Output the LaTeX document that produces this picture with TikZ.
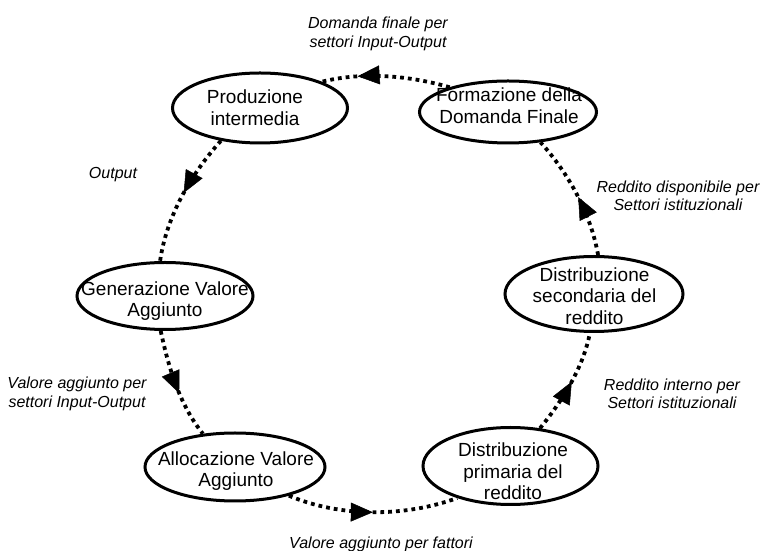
\documentclass[tikz,border=0pt]{standalone}
\usepackage{fontspec}
\setmainfont{Liberation Sans}
\usetikzlibrary{arrows.meta,decorations.markings,shapes.geometric}
\begin{document}
\begin{tikzpicture}[x=1pt,y=1pt,
  stage/.style={ellipse, draw=black, line width=3pt, inner sep=0pt},
  txt/.style={align=center, inner sep=0pt, font=\fontsize{19}{21.5}\selectfont},
  lab/.style={align=center, inner sep=0pt, font=\fontsize{16}{18.5}\selectfont\itshape},
  flow/.style={line width=3.8pt, dash pattern=on 3.8pt off 4pt, looseness=0.85,
    decoration={markings, mark=at position #1 with {\arrow{Triangle[length=22pt,width=19pt,line width=0.5pt]}}},
    postaction={decorate}}
]
\path[use as bounding box] (0,0) rectangle (760,551);

% stages
\node[stage, minimum width=175pt, minimum height=70pt] (P)  at (260,443) {};
\node[stage, minimum width=177pt, minimum height=62pt] (F)  at (508,439) {};
\node[stage, minimum width=176pt, minimum height=67pt] (G)  at (165,255) {};
\node[stage, minimum width=180pt, minimum height=68pt] (A)  at (235,84) {};
\node[stage, minimum width=175pt, minimum height=77pt] (D1) at (510.5,85) {};
\node[stage, minimum width=178pt, minimum height=75pt] (D2) at (594,257) {};

\node[txt] (Pt)  at (255,443.5) {Produzione\\intermedia};
\node[txt] (Ft)  at (509,445.5) {Formazione della\\Domanda Finale};
\node[txt] (Gt)  at (165,250) {Generazione Valore\\Aggiunto};
\node[txt] (At)  at (236,80) {Allocazione Valore\\Aggiunto};
\node[txt] (D1t) at (513,79.5) {Distribuzione\\primaria del\\reddito};
\node[txt] (D2t) at (594.5,255) {Distribuzione\\secondaria del\\reddito};

% flows
\draw[flow=0.72] (F.157) to[out=164, in=14] (P.23);
\draw[flow=0.47] (P.220) to[out=228, in=82] (G.98);
\draw[flow=0.58] (G.263) to[out=282, in=129] (A.134);
\draw[flow=0.5]  (A.332) to[out=337, in=200] (D1.211);
\draw[flow=0.52] (D1.52) to[out=51, in=259] (D2.264);
\draw[flow=0.48] (D2.84) to[out=100, in=312] (F.317);

% labels
\node[lab] (L1) at (378,517) {Domanda finale per\\ settori Input-Output};
\node[lab] (L2) at (113,376) {Output};
\node[lab] (L3) at (678,355) {Reddito disponibile per\\Settori istituzionali};
\node[lab] (L4) at (77,157) {Valore aggiunto per\\settori Input-Output};
\node[lab] (L5) at (672,157) {Reddito interno per\\Settori istituzionali};
\node[lab] (L6) at (381,7) {Valore aggiunto per fattori};
\end{tikzpicture}
\end{document}
